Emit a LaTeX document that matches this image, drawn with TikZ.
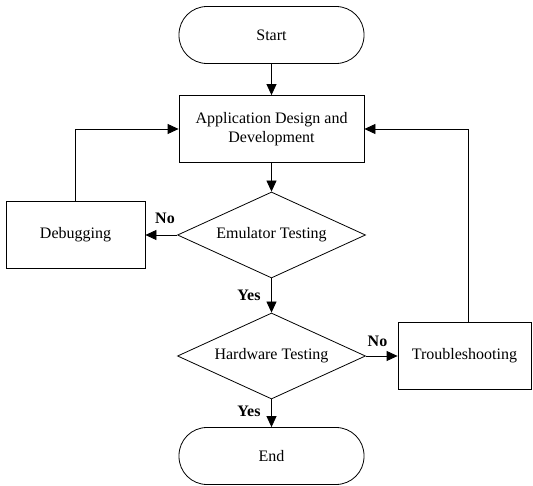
\documentclass[tikz,border=0pt]{standalone}
\usepackage{fontspec}
\setmainfont{Liberation Serif}
\usetikzlibrary{shapes.geometric,arrows.meta}
\begin{document}
\begin{tikzpicture}[x=1pt,y=-1pt,
  font=\fontsize{16}{19.2}\selectfont,
  every node/.style={inner sep=0pt},
  pill/.style={draw,line width=0.8pt,rounded corners=28pt,minimum width=185pt,minimum height=57pt},
  box/.style={draw,line width=0.8pt,minimum width=#1,minimum height=67pt,align=center},
  dec/.style={draw,line width=0.8pt,shape=diamond,aspect=2.186,minimum width=188pt,minimum height=86pt},
  conn/.style={line width=0.8pt,-{Triangle[length=11pt,width=10pt]}},
  lbl/.style={font=\fontsize{16}{19.2}\selectfont\bfseries}]
\useasboundingbox (0,0) rectangle (533,486);
\node[pill] (start) at (271.5,35) {Start};
\node[box=185pt] (app) at (271.5,129) {Application Design and\\Development};
\node[box=139pt] (debug) at (75.5,235) {Debugging};
\node[dec] (emu) at (271.5,235) {Emulator Testing};
\node[dec] (hw) at (271.5,356) {Hardware Testing};
\node[box=133pt] (trouble) at (464.5,356) {Troubleshooting};
\node[pill] (end) at (271.5,456) {End};
\draw[conn] (start) -- (app);
\draw[conn] (app) -- (emu);
\draw[conn] (emu.west) -- (debug.east);
\draw[conn] (debug.north) |- (app.west);
\draw[conn] (emu.south) -- (hw.north);
\draw[conn] (hw.east) -- (trouble.west);
\draw[conn] ([xshift=3.5pt]trouble.north) |- (app.east);
\draw[conn] (hw.south) -- (end.north);
\node[lbl] (no1) at (165,218) {No};
\node[lbl] (yes1) at (249,295) {Yes};
\node[lbl] (no2) at (377.5,341) {No};
\node[lbl] (yes2) at (249,411) {Yes};
\end{tikzpicture}
\end{document}
